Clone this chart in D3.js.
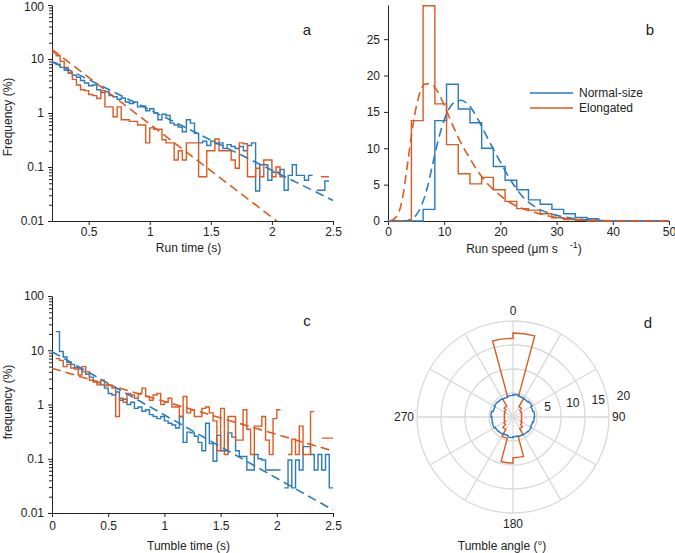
<!DOCTYPE html>
<html><head><meta charset="utf-8">
<script src="https://cdn.jsdelivr.net/npm/d3@7"></script>
<style>
body{margin:0;background:#fff}
text{font-family:"Liberation Sans",Arial,sans-serif;fill:#222}
</style>
</head><body>
<svg id="chart" width="675" height="553"></svg>
<script>
const BLUE = "#2a7bbd", ORANGE = "#dc5b22";

// ---------- Panel a: run time (log) ----------
const runBinStart = 0.2, runBinWidth = 1/30;
const runNormal = [8.5,8.0,7.0,6.2,5.5,5.0,4.6,4.0,3.6,3.2,3.3,2.7,2.4,2.5,2.1,2.0,1.8,1.9,1.6,1.5,1.6,1.3,1.35,1.1,1.2,1.0,0.75,0.95,0.9,0.65,0.6,0.55,0.45,0.75,0.65,0.42,0.28,0.3,0.25,0.3,0.27,0.28,0.22,0.26,0.24,0.22,0.24,0.2,0.25,0.28,0.036,0.11,0.11,0.057,0.08,0.08,0.09,0.037,0.07,0.11,0.07,0.07,0.057,0.07,0,0.037,0.037,0.055,0];
const runElong = [13,11.5,9,7,5.5,4.2,3.3,2.7,2.6,2.2,2.1,1.85,2.6,1.3,1.3,0.85,1.3,0.75,0.75,0.7,0.7,0.6,0.6,0.28,0.53,0.5,0.5,0.32,0.28,0.28,0.135,0.2,0.135,0.28,0.28,0.28,0.066,0.066,0.2,0.2,0.33,0.2,0.2,0.2,0.135,0.095,0.28,0.27,0.066,0.066,0.095,0.066,0.135,0.135,0.066,0.1,0.066,0,0,0,0,0,0,0,0,0,0.066,0.066,0];
const runFitNormal = [[0.2, 9], [2.5, 0.024]];
const runFitElong = [[0.2, 15], [2.04, 0.01]];
const logTicks = [0.01, 0.1, 1, 10, 100];
const timeTicksA = [0.5, 1, 1.5, 2, 2.5];

// ---------- Panel b: run speed ----------
const speedBinWidth = 50/24;
const speedNormal = [0,0,0,1.6,13.8,18.8,15.4,13.5,10.0,7.5,5.6,4.3,2.9,2.3,1.6,1.0,0.5,0.3,0,0,0,0,0,0];
const speedElong = [0,0,13.8,29.6,16.1,10.5,6.5,5.1,6.0,4.3,2.7,1.7,1.5,1.0,0.45,0.2,0.1,0,0,0,0,0,0,0];
const speedFitNormal = [[0,0],[3,0],[4,0.2],[5,0.8],[6,2.2],[7,4.6],[8,8.0],[9,11.3],[10,13.9],[11,15.6],[12,16.4],[13,16.6],[14,16.2],[15,15.3],[16,14.0],[17,12.5],[18,11.0],[19,9.5],[20,8.1],[21,6.7],[22,5.4],[23,4.3],[24,3.3],[25,2.6],[27,1.6],[29,1.0],[31,0.6],[33,0.35],[35,0.2],[38,0.07],[41,0],[50,0]];
const speedFitElong = [[0.3,0],[1.5,0.6],[2.5,2.8],[3.5,8.0],[4.5,13.5],[5.5,17.2],[6.5,18.8],[7.5,18.9],[8.5,18.2],[9.5,16.8],[10.5,15.0],[11.5,13.2],[12.5,11.5],[13.5,10.0],[14.5,8.7],[15.5,7.4],[16.5,6.3],[17.5,5.3],[18.5,4.5],[20,3.5],[22,2.4],[24,1.7],[26,1.2],[28,0.8],[30,0.5],[32,0.3],[35,0.15],[40,0.03],[45,0],[50,0]];
const speedTicksX = [0,10,20,30,40,50];
const speedTicksY = [0,5,10,15,20,25];
const legendLabels = ["Normal-size","Elongated"];

// ---------- Panel c: tumble time (log) ----------
const tumbleBinStart = 0, tumbleBinWidth = 1/30;
const tumbleNormal = [0,22,9.5,7.5,6.0,5.5,4.8,4.5,4.0,3.6,3.2,2.7,2.5,2.3,2.0,1.6,1.5,1.7,1.2,1.25,1.0,1.1,0.85,0.9,0.75,0.8,0.65,0.6,0.55,0.6,0.5,0.45,0.42,0.37,0.6,0.2,0.31,0.3,0.26,0.2,0.14,0.45,0.19,0.09,0.27,0.14,0.14,0.3,0.25,0.14,0.11,0.11,0.062,0.062,0.12,0.1,0.095,0.062,0.062,0.062,0.062,0,0.029,0.095,0.029,0.095,0.062,0.167,0.167,0.12,0.062,0.12,0.062,0.12,0.029];
const tumbleElong = [0,7.0,6.5,5.0,5.5,4.7,4.5,3.5,5.0,4.0,2.8,2.6,2.3,2.8,2.2,2.3,2.0,0.6,1.3,1.1,1.6,1.5,1.3,1.6,2.0,1.4,1.2,1.5,1.6,1.0,1.1,1.3,0.9,0.9,0.6,1.4,0.7,0.8,0.6,0.6,0.85,0.9,0.7,0.5,0.14,0.85,0.12,0.6,0.6,0.22,0.22,0.8,0.35,0.12,0.4,0.4,0.6,0.22,0.12,0.55,0.8,0,0,0.12,0.23,0.12,0.4,0.12,0.12,0.74,0,0,0.24,0.24,0.24];
const tumbleFitNormal = [[0, 9.4], [2.5, 0.0114]];
const tumbleFitElong = [[0, 4.65], [2.5, 0.139]];
const timeTicksC = [0, 0.5, 1, 1.5, 2, 2.5];

// ---------- Panel d: tumble angle (polar) ----------
const angleBinWidth = 15;
const angleNormal = [4.7,4.5,4.4,4.6,4.3,4.5,4.4,4.2,4.4,4.3,4.2,4.1,4.3,4.0,4.2,4.3,4.5,4.4,4.6,4.3,4.5,4.4,4.3,4.5];
const angleElong = [17.5,4.5,2.5,2.0,1.9,1.8,1.8,1.9,2.2,2.8,4.2,8.5,9.6,4.6,3.0,2.2,1.9,1.8,1.8,1.9,2.1,2.6,4.3,16.4];
const ringValues = [5,10,15,20];
const angleLabels = [0,90,180,270];

const svg = d3.select("#chart");

function stairsPoints(start, w, vals){
  const pts = [];
  vals.forEach((v,i)=>{ const x0 = start + i*w; pts.push([x0, v], [x0 + w, v]); });
  return pts;
}

function styleAxisText(a, attr, val){
  a.selectAll("text").attr("font-size",12).attr("font-family","Liberation Sans, Arial, sans-serif").attr("fill","#222").attr(attr,val);
  a.selectAll("line,path").attr("stroke","#222");
}

function logPanel(xs, ys, ticksX, xTitle, yTitle, letter, series, fits, xTitleY, yTitleY, tickLabelY, topShift){
  const g = svg.append("g");
  const minor = [];
  for (let e = -2; e < 2; e++) for (let m = 2; m <= 9; m++) minor.push(m * Math.pow(10, e));
  g.append("g").attr("transform",`translate(${xs.range()[0]},0)`)
    .call(d3.axisLeft(ys).tickValues(minor).tickSize(3).tickFormat("").tickSizeOuter(0))
    .call(a=>a.select(".domain").remove())
    .call(a=>a.selectAll("line").attr("stroke","#222"));
  g.append("g").attr("transform",`translate(${xs.range()[0]},0)`)
    .call(d3.axisLeft(ys).tickValues(logTicks).tickSize(4).tickSizeOuter(0).tickFormat(d=>String(d)))
    .call(a=>styleAxisText(a,"x",-8))
    .call(a=>a.selectAll("text").filter(d=>d===100).attr("y", topShift));
  g.append("g").attr("transform",`translate(0,${ys.range()[0]})`)
    .call(d3.axisBottom(xs).tickValues(ticksX).tickSize(4).tickSizeOuter(0).tickFormat(d=>String(d)))
    .call(a=>styleAxisText(a,"y",tickLabelY));

  const line = d3.line().defined(d=>d[1] > 0).x(d=>xs(d[0])).y(d=>ys(d[1]));
  series.forEach(s=>{
    g.append("path").attr("d", line(stairsPoints(s.start, s.w, s.vals)))
      .attr("fill","none").attr("stroke", s.color).attr("stroke-width",1.4);
  });
  fits.forEach(f=>{
    g.append("path").attr("d", line(f.pts))
      .attr("fill","none").attr("stroke", f.color).attr("stroke-width",1.6).attr("stroke-dasharray","9,5");
  });
  const cx = (xs.range()[0] + xs.range()[1]) / 2;
  g.append("text").attr("x", cx - 4).attr("y", xTitleY).attr("text-anchor","middle").attr("font-size",12).text(xTitle);
  g.append("text").attr("transform",`translate(12,${yTitleY}) rotate(-90)`).attr("text-anchor","middle").attr("font-size",12).text(yTitle);
  g.append("text").attr("x", 307).attr("y", ys.range()[1] + 30).attr("text-anchor","middle").attr("font-size",15).text(letter);
}

// Panel a
const xa = d3.scaleLinear([0.2, 2.5], [52, 333]);
const ya = d3.scaleLog([0.01, 100], [221, 5]);
logPanel(xa, ya, timeTicksA, "Run time (s)", "Frequency (%)", "a",
  [{start:runBinStart,w:runBinWidth,vals:runNormal,color:BLUE},{start:runBinStart,w:runBinWidth,vals:runElong,color:ORANGE}],
  [{pts:runFitNormal,color:BLUE},{pts:runFitElong,color:ORANGE}], 252, 117, 6, 2);

// Panel c
const xc = d3.scaleLinear([0, 2.5], [52, 333]);
const yc = d3.scaleLog([0.01, 100], [513, 296]);
logPanel(xc, yc, timeTicksC, "Tumble time (s)", "frequency (%)", "c",
  [{start:tumbleBinStart,w:tumbleBinWidth,vals:tumbleNormal,color:BLUE},{start:tumbleBinStart,w:tumbleBinWidth,vals:tumbleElong,color:ORANGE}],
  [{pts:tumbleFitNormal,color:BLUE},{pts:tumbleFitElong,color:ORANGE}], 550, 402, 8, 0);

// Panel b
{
  const g = svg.append("g");
  const xb = d3.scaleLinear([0, 50], [388, 669]);
  const yb = d3.scaleLinear([0, 29.7], [221, 5]);
  g.append("g").attr("transform","translate(388,0)")
    .call(d3.axisLeft(yb).tickValues(speedTicksY).tickSize(4).tickSizeOuter(0))
    .call(a=>styleAxisText(a,"x",-8));
  g.append("g").attr("transform","translate(0,221)")
    .call(d3.axisBottom(xb).tickValues(speedTicksX).tickSize(4).tickSizeOuter(0))
    .call(a=>styleAxisText(a,"y",6));
  const line = d3.line().x(d=>xb(d[0])).y(d=>yb(d[1]));
  const fitLine = d3.line().curve(d3.curveMonotoneX).x(d=>xb(d[0])).y(d=>yb(d[1]));
  [[speedNormal,BLUE],[speedElong,ORANGE]].forEach(([vals,color])=>{
    g.append("path").attr("d", line(stairsPoints(0, speedBinWidth, vals)))
      .attr("fill","none").attr("stroke",color).attr("stroke-width",1.4);
  });
  [[speedFitNormal,BLUE],[speedFitElong,ORANGE]].forEach(([pts,color])=>{
    g.append("path").attr("d", fitLine(pts))
      .attr("fill","none").attr("stroke",color).attr("stroke-width",1.6).attr("stroke-dasharray","9,5");
  });
  legendLabels.forEach((lab,i)=>{
    const yy = 93 + i*15;
    g.append("line").attr("x1",530).attr("x2",573).attr("y1",yy).attr("y2",yy)
      .attr("stroke", i===0?BLUE:ORANGE).attr("stroke-width",1.6);
    g.append("text").attr("x",579).attr("y",yy+4).attr("font-size",12).text(lab);
  });
  const t = g.append("text").attr("x",524).attr("y",253).attr("text-anchor","middle").attr("font-size",12);
  t.append("tspan").text("Run speed (\u03bcm s");
  t.append("tspan").attr("dx",12).attr("dy",-5).attr("font-size",9).text("-1");
  t.append("tspan").attr("dy",5).text(")");
  g.append("text").attr("x",650).attr("y",35).attr("text-anchor","middle").attr("font-size",15).text("b");
}

// Panel d
{
  const g = svg.append("g");
  const cx = 513, cy = 417;
  const r = d3.scaleLinear([0, 20], [0, 96]);
  const rad = deg => (deg - 90) * Math.PI / 180;
  ringValues.forEach(v=>{
    g.append("circle").attr("cx",cx).attr("cy",cy).attr("r",r(v))
      .attr("fill","none").attr("stroke","#d9d9d9").attr("stroke-width",1.3);
  });
  d3.range(0, 360, 30).forEach(a=>{
    g.append("line").attr("x1",cx).attr("y1",cy)
      .attr("x2",cx + r(20)*Math.cos(rad(a))).attr("y2",cy + r(20)*Math.sin(rad(a)))
      .attr("stroke","#d9d9d9").attr("stroke-width",1.3);
  });
  function rose(vals){
    const p = d3.path();
    vals.forEach((v,i)=>{
      const a0 = rad(i*angleBinWidth), a1 = rad((i+1)*angleBinWidth), rr = r(v);
      if (i === 0) p.moveTo(cx + rr*Math.cos(a0), cy + rr*Math.sin(a0));
      p.arc(cx, cy, rr, a0, a1);
    });
    p.closePath();
    return p.toString();
  }
  g.append("path").attr("d", rose(angleElong)).attr("fill","none").attr("stroke",ORANGE).attr("stroke-width",1.4);
  g.append("path").attr("d", rose(angleNormal)).attr("fill","none").attr("stroke",BLUE).attr("stroke-width",1.4);
  const angPos = {0:[cx, cy - r(20) - 6, "middle"], 90:[cx + r(20) + 3, cy + 4, "start"], 180:[cx, cy + r(20) + 15, "middle"], 270:[cx - r(20) - 3, cy + 4, "end"]};
  angleLabels.forEach(a=>{
    const [x,y,anchor] = angPos[a];
    g.append("text").attr("x",x).attr("y",y).attr("text-anchor",anchor).attr("font-size",12).text(a);
  });
  ringValues.forEach(v=>{
    g.append("text").attr("x", cx + r(v)*1.055 + 9.2).attr("y", cy - 2.7 - r(v)*0.15)
      .attr("text-anchor","middle").attr("font-size",12).text(v);
  });
  g.append("text").attr("x",502).attr("y",550).attr("text-anchor","middle").attr("font-size",12).text("Tumble angle (\u00b0)");
  g.append("text").attr("x",648).attr("y",328).attr("text-anchor","middle").attr("font-size",15).text("d");
}
</script>
</body></html>
